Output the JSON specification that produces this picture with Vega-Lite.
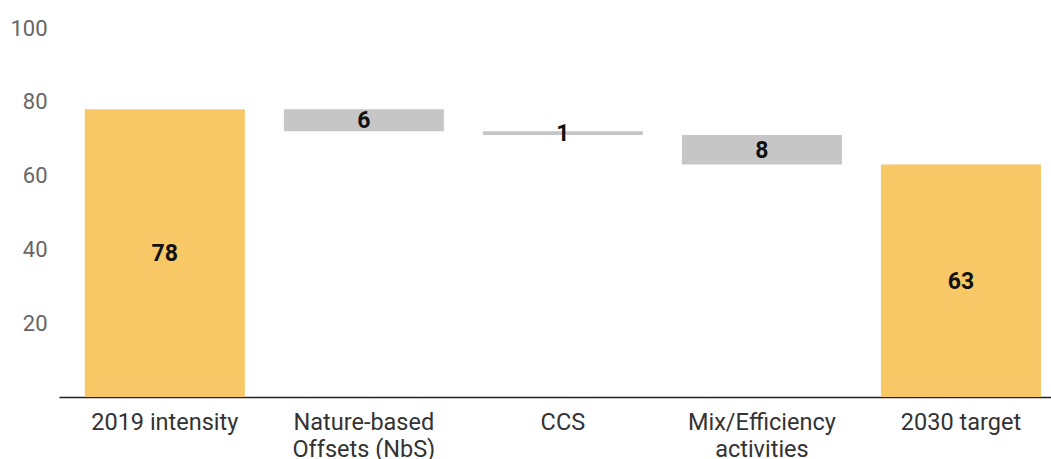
{
  "$schema": "https://vega.github.io/schema/vega-lite/v6.json",
  "width": 992,
  "height": 369,
  "autosize": {"type": "none"},
  "padding": {"left": 59, "top": 28, "right": 0, "bottom": 62},
  "background": "white",
  "view": {"stroke": null},
  "data": {
    "values": [
      {"category": "2019 intensity", "start": 0, "end": 78, "label": "78", "kind": "total"},
      {"category": "Nature-based Offsets (NbS)", "start": 78, "end": 72, "label": "6", "kind": "step"},
      {"category": "CCS", "start": 72, "end": 71, "label": "1", "kind": "step"},
      {"category": "Mix/Efficiency activities", "start": 71, "end": 63, "label": "8", "kind": "step"},
      {"category": "2030 target", "start": 0, "end": 63, "label": "63", "kind": "total"}
    ]
  },
  "encoding": {
    "x": {
      "field": "category",
      "type": "nominal",
      "sort": null,
      "scale": {"paddingInner": 0.196, "paddingOuter": 0.09, "align": 0.72},
      "axis": {
        "title": null,
        "labelAngle": 0,
        "ticks": false,
        "domainColor": "#222",
        "domainWidth": 1.5,
        "labelFont": "Roboto",
        "labelFontSize": 23.5,
        "labelColor": "#333",
        "labelPadding": 13,
        "labelLineHeight": 27,
        "labelBaseline": "top",
        "labelExpr": "datum.value == 'Nature-based Offsets (NbS)' ? ['Nature-based', 'Offsets (NbS)'] : datum.value == 'Mix/Efficiency activities' ? ['Mix/Efficiency', 'activities'] : datum.value"
      }
    }
  },
  "layer": [
    {
      "mark": {"type": "bar"},
      "encoding": {
        "y": {
          "field": "start",
          "type": "quantitative",
          "scale": {"domain": [0, 100], "nice": false},
          "axis": {
            "title": null,
            "values": [20, 40, 60, 80, 100],
            "grid": false,
            "ticks": false,
            "domain": false,
            "labelFont": "Roboto",
            "labelFontSize": 22,
            "labelColor": "#666",
            "labelPadding": 12
          }
        },
        "y2": {"field": "end"},
        "color": {
          "field": "kind",
          "type": "nominal",
          "scale": {"domain": ["total", "step"], "range": ["#F7C865", "#C6C6C6"]},
          "legend": null
        }
      }
    },
    {
      "transform": [
        {"fold": ["start", "end"], "as": ["edge", "v"]},
        {"aggregate": [{"op": "mean", "field": "v", "as": "mid"}], "groupby": ["category", "label"]}
      ],
      "mark": {"type": "text", "font": "Roboto", "fontSize": 23, "fontWeight": "bold", "color": "#111", "baseline": "middle", "dy": 1},
      "encoding": {
        "y": {"field": "mid", "type": "quantitative"},
        "text": {"field": "label"}
      }
    }
  ]
}
